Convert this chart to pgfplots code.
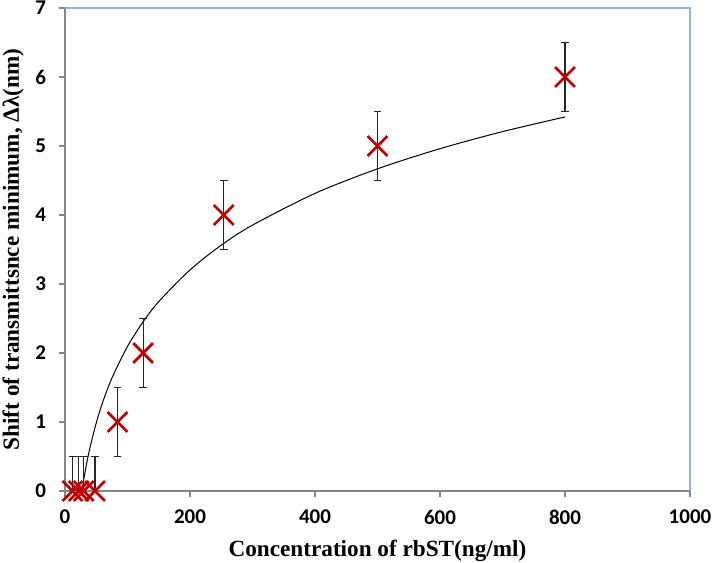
\documentclass[border=0pt]{standalone}
\usepackage{fontspec}
\setmainfont{Liberation Serif}
\newfontfamily\calibri{Carlito}
\usepackage{pgfplots}
\pgfplotsset{compat=1.18}
\definecolor{mkred}{HTML}{C00000}
\definecolor{axgrey}{HTML}{868686}
\definecolor{boxblue}{HTML}{95B3D7}
\definecolor{barcol}{HTML}{262626}
\begin{document}
\begin{tikzpicture}
\begin{axis}[
  name=ax,
  scale only axis,
  width=312.5pt, height=241.5pt,
  xmin=0, xmax=1000, ymin=0, ymax=7,
  xtick={0,200,...,1000}, ytick={0,1,...,7},
  axis x line*=bottom, axis y line*=left,
  axis line style={axgrey, line width=0.6pt},
  tick style={axgrey, line width=0.6pt},
  tick align=outside, major tick length=3pt,
  separate axis lines,
  x axis line style={-}, y axis line style={-},
  /pgf/number format/assume math mode=true,
  /pgf/number format/1000 sep={},
  ticklabel style={font=\calibri\bfseries\fontsize{10.5}{12}\selectfont, black},
  xticklabel style={yshift=-3pt},
  yticklabel style={xshift=-3pt},
  xlabel={\bfseries Concentration of rbST(ng/ml)},
  ylabel={\bfseries Shift of transmittsnce minimum, Δλ(nm)},
  label style={font=\bfseries\fontsize{11.6}{13}\selectfont},
  xlabel style={at={(axis description cs:0.5,0)}, anchor=north, yshift=-21pt},
  ylabel style={at={(axis description cs:0,0.5)}, anchor=south, yshift=17pt},
  clip=false,
]
\draw[boxblue, line width=0.8pt] (rel axis cs:0,1) -- (rel axis cs:1,1) -- (rel axis cs:1,0);
\addplot[black, line width=0.5pt, no marks, smooth] coordinates {
(27,0) (30,0.169) (35,0.415) (40,0.629) (50,0.986) (60,1.278) (75,1.635)
(100,2.095) (125,2.452) (150,2.744) (200,3.204) (250,3.562) (300,3.853)
(400,4.313) (500,4.669) (600,4.961) (700,5.208) (800,5.421)};
\addplot[only marks, mark=x, mark size=7pt, mkred, line width=1.35pt,
  error bars/.cd, y dir=plus, y explicit,
  error bar style={barcol, line width=0.55pt},
  error mark options={barcol, rotate=90, mark size=1.9pt, line width=0.55pt}]
  coordinates {
  (12,0) +- (0,0.5)
  (22,0) +- (0,0.5)
  (30,0) +- (0,0.5)
  (48,0) +- (0,0.5)
  };
\addplot[only marks, mark=x, mark size=7pt, mkred, line width=1.35pt,
  error bars/.cd, y dir=both, y explicit,
  error bar style={barcol, line width=0.55pt},
  error mark options={barcol, rotate=90, mark size=1.9pt, line width=0.55pt}]
  coordinates {
  (84,1) +- (0,0.5)
  (125,2) +- (0,0.5)
  (254,4) +- (0,0.5)
  (500,5) +- (0,0.5)
  (800,6) +- (0,0.5)
  };
\end{axis}
\pgfresetboundingbox
\path ([shift={(-32.5pt,-36pt)}]ax.south west) rectangle ([shift={(12pt,4pt)}]ax.north east);
\end{tikzpicture}
\end{document}
